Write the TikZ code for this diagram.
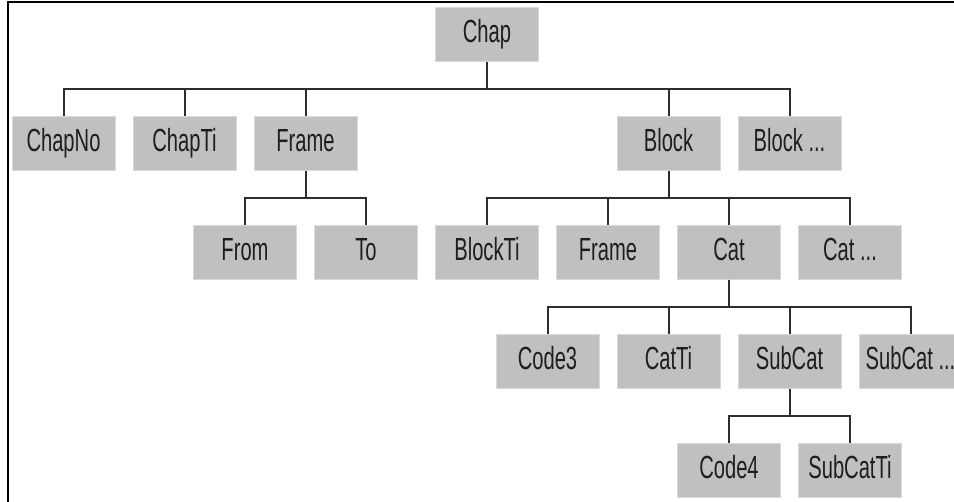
\documentclass[tikz,border=0pt]{standalone}
\usepackage{fontspec}
\setmainfont{Liberation Sans}[FakeStretch=0.63]
\usetikzlibrary{positioning}
\definecolor{boxgray}{RGB}{192,192,192}
\definecolor{boxedge}{RGB}{218,218,218}
\definecolor{linegray}{RGB}{45,45,45}
\definecolor{textgray}{RGB}{30,30,30}

\begin{document}
\begin{tikzpicture}[node distance=54.5pt and 60.5pt,on grid,
    box/.style={rectangle,fill=boxgray,draw=boxedge,line width=0.4pt,
      minimum width=51.5pt,minimum height=27pt,inner sep=0pt,
      text height=11.5pt,text depth=3.5pt,
      text=textgray,font=\fontsize{16pt}{18pt}\selectfont},
    fork/.style={to path={(\tikztostart.south) -- ++(0,-13.5pt) -| (\tikztotarget.north)}}]
  \useasboundingbox (0,0) rectangle (477pt,-251pt);
  % Frame
  \draw[line width=1pt] (4pt,-1pt) rectangle (490pt,-270pt);
  % Nodes
  \node[box] (chap) at (243.5pt,-17.25pt) {Chap};
  \node[box] (chapno) [below left=54.5pt and 211.75pt of chap] {ChapNo};
  \node[box] (chapti) [right=of chapno] {ChapTi};
  \node[box] (frame) [right=of chapti] {Frame};
  \node[box] (block) [right=181.5pt of frame] {Block};
  \node[box] (blockmore) [right=of block] {Block ...};
  \node[box] (from) [below left=54.5pt and 30.25pt of frame] {From};
  \node[box] (to) [right=of from] {To};
  \node[box] (blockti) [below left=54.5pt and 90.75pt of block] {BlockTi};
  \node[box] (bframe) [right=of blockti] {Frame};
  \node[box] (cat) [right=of bframe] {Cat};
  \node[box] (catmore) [right=of cat] {Cat ...};
  \node[box] (code3) [below left=54.5pt and 90.75pt of cat] {Code3};
  \node[box] (catti) [right=of code3] {CatTi};
  \node[box] (subcat) [right=of catti] {SubCat};
  \node[box] (subcatmore) [right=of subcat] {SubCat ...};
  \node[box] (code4) [below left=54.5pt and 30.25pt of subcat] {Code4};
  \node[box] (subcatti) [right=of code4] {SubCatTi};
  % Tree lines
  \path[draw=linegray,line width=1pt]
      (chap) edge[fork] (chapno)
             edge[fork] (chapti)
             edge[fork] (frame)
             edge[fork] (block)
             edge[fork] (blockmore)
      (frame) edge[fork] (from)
              edge[fork] (to)
      (block) edge[fork] (blockti)
              edge[fork] (bframe)
              edge[fork] (cat)
              edge[fork] (catmore)
      (cat) edge[fork] (code3)
            edge[fork] (catti)
            edge[fork] (subcat)
            edge[fork] (subcatmore)
      (subcat) edge[fork] (code4)
               edge[fork] (subcatti);
\end{tikzpicture}
\end{document}
